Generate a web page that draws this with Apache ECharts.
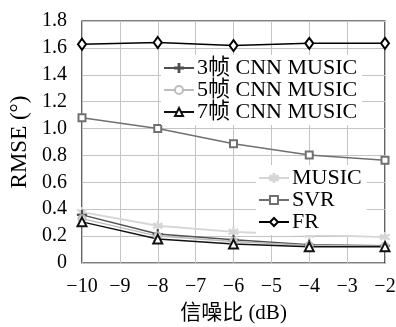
<!DOCTYPE html>
<html><head><meta charset="utf-8">
<script src="https://cdn.jsdelivr.net/npm/echarts@6/dist/echarts.min.js"></script>
<style>html,body{margin:0;padding:0;background:#fff}#c{width:396px;height:327px}</style>
</head><body><div id="c"></div>
<script>
const snr = [-10, -8, -6, -4, -2];
const xTicks = [-10, -9, -8, -7, -6, -5, -4, -3, -2];
const yTicks = [0, 0.2, 0.4, 0.6, 0.8, 1.0, 1.2, 1.4, 1.6, 1.8];
const cnn3 = [0.358, 0.215, 0.173, 0.136, 0.128];
const cnn5 = [0.33, 0.2, 0.16, 0.13, 0.125];
const cnn7 = [0.306, 0.178, 0.141, 0.121, 0.12];
const music = [0.378, 0.277, 0.232, 0.21, 0.193];
const svr = [1.08, 1.0, 0.887, 0.803, 0.764];
const fr = [1.627, 1.64, 1.617, 1.634, 1.634];

const FONT = '"Liberation Serif", "Times New Roman", "Noto Sans CJK SC", serif';
const pair = arr => snr.map((x, i) => [x, arr[i]]);
const plus = 'path://M-1,-0.1L-0.1,-0.1L-0.1,-1L0.1,-1L0.1,-0.1L1,-0.1L1,0.1L0.1,0.1L0.1,1L-0.1,1L-0.1,0.1L-1,0.1Z';
const star = 'path://M-0.12,-1L0.12,-1L0.1,-0.2L0.85,-0.6L0.97,-0.4L0.2,0L0.97,0.4L0.85,0.6L0.1,0.2L0.12,1L-0.12,1L-0.1,0.2L-0.85,0.6L-0.97,0.4L-0.2,0L-0.97,-0.4L-0.85,-0.6L-0.1,-0.2Z';
function s(name, data, color, symbol, size, width) {
  return {
    name, type: 'line', data: pair(data), symbol, symbolSize: size,
    showAllSymbol: true,
    lineStyle: { color, width: width || 1.5 },
    itemStyle: { color, borderColor: color, borderWidth: 1.2 },
    emphasis: { disabled: true }, animation: false, z: 3
  };
}
const legendCommon = {
  orient: 'vertical', backgroundColor: '#fff', padding: [2, 5, 2, 2], itemGap: 0,
  itemWidth: 30, itemHeight: 10,
  textStyle: { fontFamily: FONT, fontSize: 22, lineHeight: 22, color: '#000', padding: [0, 0, 0, -2] }
};
const chart = echarts.init(document.getElementById('c'), null, { renderer: 'canvas' });
chart.setOption({
  animation: false,
  grid: { left: 82, right: 11, top: 21, bottom: 64, containLabel: false, outerBoundsMode: 'none',
    show: true, borderColor: '#000', borderWidth: 1.2, backgroundColor: 'transparent' },
  xAxis: {
    type: 'value', min: -10, max: -2, interval: 1,
    name: '信噪比 (dB)', nameLocation: 'middle', nameGap: 40,
    nameTextStyle: { fontFamily: FONT, fontSize: 21, color: '#000' },
    axisLine: { show: false }, axisTick: { show: false },
    axisLabel: { fontFamily: FONT, fontSize: 20, color: '#000', margin: 14,
      formatter: v => xTicks.includes(v) ? (v < 0 ? '\u2212' + Math.abs(v) : String(v)) : '' },
    splitLine: { show: true, lineStyle: { color: '#c4c4c4', width: 1 } }
  },
  yAxis: {
    type: 'value', min: 0, max: 1.8, interval: 0.2,
    name: 'RMSE (°)', nameLocation: 'middle', nameGap: 50, nameRotate: 90,
    nameTextStyle: { fontFamily: FONT, fontSize: 23, color: '#000' },
    axisLine: { show: false }, axisTick: { show: false },
    axisLabel: { fontFamily: FONT, fontSize: 20, color: '#000', margin: 15,
      formatter: v => { const t = yTicks.find(k => Math.abs(k - v) < 1e-6); return t === undefined ? '' : (t === 0 ? '0' : t.toFixed(1)); } },
    splitLine: { show: true, lineStyle: { color: '#c4c4c4', width: 1 } }
  },
  legend: [
    Object.assign({ data: ['3帧 CNN MUSIC', '5帧 CNN MUSIC', '7帧 CNN MUSIC'], left: 161, top: 55 }, legendCommon),
    Object.assign({ data: ['MUSIC', 'SVR', 'FR'], left: 256, top: 165 }, legendCommon)
  ],
  series: [
    s('MUSIC', music, '#d6d6d6', star, 9, 1.8),
    s('SVR', svr, '#707070', 'emptyRect', 7),
    s('FR', fr, '#000', 'emptyDiamond', [8, 11]),
    s('3帧 CNN MUSIC', cnn3, '#505050', plus, 9),
    s('5帧 CNN MUSIC', cnn5, '#bcbcbc', 'emptyCircle', 7),
    s('7帧 CNN MUSIC', cnn7, '#111', 'emptyTriangle', 9)
  ]
});
</script></body></html>
